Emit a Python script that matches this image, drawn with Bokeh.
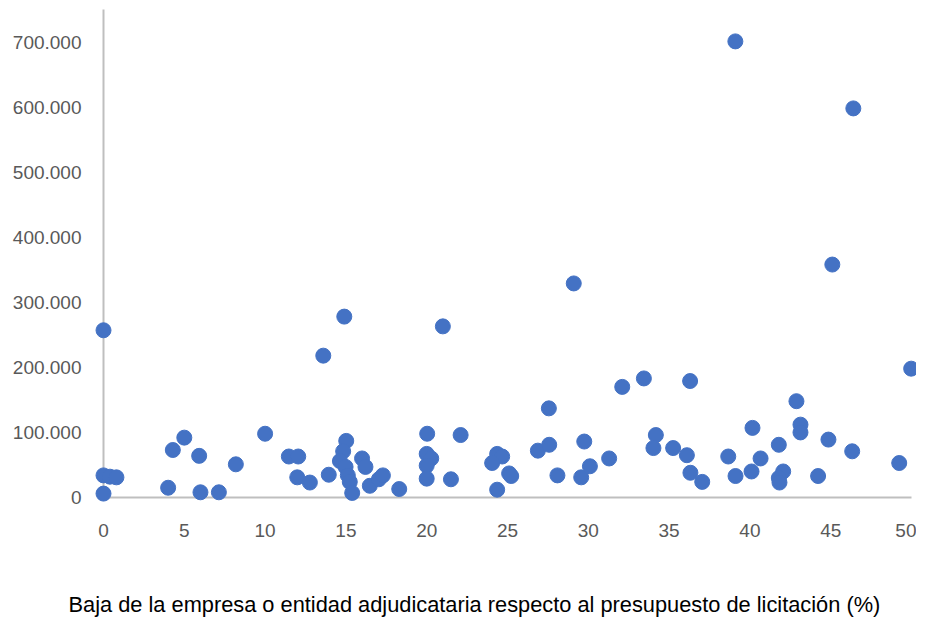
from bokeh.plotting import figure
from bokeh.models import FixedTicker, Range1d, Title
from bokeh.embed import file_html
from bokeh.resources import INLINE

# ---- data ----
baja_pct = [
    0, 0, 0.4, 0.8, 0,
    4.0, 4.29, 5.0, 5.92, 6.0, 7.14, 8.19, 10.0,
    11.47, 12.05, 11.99, 12.77, 13.6, 13.94,
    14.9, 15.02, 14.83, 14.63, 14.98, 15.12, 15.24, 15.39,
    16.0, 16.21, 16.48, 17.04, 17.29, 18.3,
    20.03, 20.0, 20.28, 20.0, 20.0, 21.0, 21.5, 22.1,
    24.36, 24.67, 24.05, 25.1, 25.23, 24.36,
    26.88, 27.58, 27.56, 28.09, 29.1, 29.75, 29.56, 30.1, 31.29, 32.1, 33.44,
    34.18, 34.03, 35.25, 36.1, 36.3, 36.32, 37.05, 38.66, 39.1, 39.11,
    40.16, 40.1, 40.66, 41.79, 42.06, 41.79, 41.83, 42.88, 43.13, 43.13,
    44.22, 44.86, 45.1, 46.4, 46.33, 49.24, 49.98,
]
importe = [
    257000, 34000, 32000, 31000, 6000,
    15000, 73000, 92000, 64000, 8000, 8000, 51000, 98000,
    63000, 63000, 31000, 23000, 218000, 35000,
    278000, 87000, 71000, 56000, 47000, 34000, 24000, 7000,
    60000, 47000, 18000, 28000, 34000, 13000,
    98000, 67000, 60000, 49000, 29000, 263000, 28000, 96000,
    67000, 63000, 53000, 37000, 33000, 12000,
    72000, 81000, 137000, 34000, 329000, 86000, 31000, 48000, 60000, 170000, 183000,
    96000, 76000, 76000, 65000, 179000, 38000, 24000, 63000, 701000, 33000,
    107000, 40000, 60000, 81000, 40000, 30000, 23000, 148000, 112000, 100000,
    33000, 89000, 358000, 598000, 71000, 53000, 198000,
]
x_ticks = [0, 5, 10, 15, 20, 25, 30, 35, 40, 45, 50]
y_ticks = [0, 100000, 200000, 300000, 400000, 500000, 600000, 700000]
y_tick_labels = ["0", "100.000", "200.000", "300.000", "400.000",
                 "500.000", "600.000", "700.000"]
x_title = "Baja de la empresa o entidad adjudicataria respecto al presupuesto de licitación (%)"

FONT = "Liberation Sans"

p = figure(
    output_backend="svg", toolbar_location=None,
    frame_width=808, frame_height=488,
    x_range=Range1d(0, 50), y_range=Range1d(0, 750000),
    min_border_left=103, min_border_right=5, min_border_top=9, min_border_bottom=2,
)
p.outline_line_color = None
p.background_fill_color = "white"
p.border_fill_color = "white"
p.xgrid.visible = False
p.ygrid.visible = False

p.scatter(baja_pct, importe, size=15, marker="circle",
          fill_color="#4472C4", line_color="#4472C4", level="overlay")

for ax in (p.xaxis, p.yaxis):
    ax.axis_line_color = "#BFBFBF"
    ax.axis_line_width = 2
    ax.major_tick_line_color = None
    ax.minor_tick_line_color = None
    ax.major_tick_out = 0
    ax.major_tick_in = 0
    ax.major_label_text_font = FONT
    ax.major_label_text_font_size = "19px"
    ax.major_label_text_color = "#595959"

p.xaxis.ticker = FixedTicker(ticks=x_ticks)
p.yaxis.ticker = FixedTicker(ticks=y_ticks)
p.yaxis.major_label_overrides = {t: l for t, l in zip(y_ticks, y_tick_labels)}
p.yaxis.major_label_standoff = 22
p.xaxis.major_label_standoff = 26

title = Title(text=x_title, align="left", offset=-35, standoff=100,
              text_font=FONT, text_font_size="21.8px", text_font_style="normal",
              text_color="#000000")
p.add_layout(title, "below")

open("out.html", "w").write(file_html(p, INLINE))
